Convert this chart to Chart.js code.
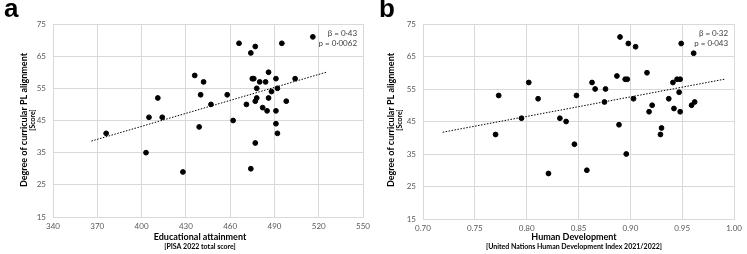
<!DOCTYPE html>
<html>
<head>
<meta charset="utf-8">
<script src="https://cdn.jsdelivr.net/npm/chart.js@4"></script>
<style>
  html,body{margin:0;padding:0;background:#fff;}
  #wrap{position:relative;width:747px;height:254px;}
  #ca{position:absolute;left:0;top:0;}
  #cb{position:absolute;left:375px;top:0;}
</style>
</head>
<body>
<div id="wrap">
  <canvas id="ca" width="375" height="254"></canvas>
  <canvas id="cb" width="372" height="254"></canvas>
</div>
<script>
// panel a: PISA 2022 total score vs curricular PL alignment
const pisaScore=[376,403,405,411,414,428,436,439,440,442,447,458,462,466,471,474,474,475,477,476,
  477,477,478,478,480,482,484,485,486,486,488,491,491,491,492,492,495,498,504,516];
const pisaAlign=[41,35,46,52,46,29,59,43,53,57,50,53,45,69,50,66,30,58,68,58,
  51,38,55,52,57,49,57,48,60,52,54,58,48,44,55,41,69,51,58,71];
const pisaTrendX=[366,525];
const pisaTrendY=[38.6,60.0];
const pisaTicksX=[340,370,400,430,460,490,520,550];

// panel b: HDI 2021/2022 vs curricular PL alignment
const hdiValue=[0.770,0.773,0.795,0.802,0.811,0.821,0.832,0.838,0.846,0.848,0.858,0.863,0.866,0.875,0.876,0.887,0.889,0.890,0.895,0.896,
  0.897,0.898,0.903,0.905,0.916,0.918,0.921,0.929,0.930,0.937,0.941,0.942,0.945,0.947,0.948,0.948,0.949,0.959,0.961,0.962];
const hdiAlign=[41,53,46,57,52,29,46,45,38,53,30,57,55,51,55,59,44,71,58,35,
  58,69,52,68,60,48,50,41,43,52,57,49,58,54,58,48,69,50,66,51];
const hdiTrendX=[0.719,0.9905];
const hdiTrendY=[41.7,58.0];

const alignTicks=[15,25,35,45,55,65,75];

const FONT="Lato, 'Liberation Sans', sans-serif";
const GRID="#d9d9d9";
const TICKC="#595959";

function labelsPlugin(o){
  return {
    id:"labels",
    afterDraw(chart){
      const c=chart.ctx, a=chart.chartArea;
      c.save();
      c.fillStyle="#000";
      c.font="bold 26px 'Liberation Sans', Arial, sans-serif";
      c.textAlign="left"; c.textBaseline="alphabetic";
      c.fillText(o.letter,o.letterX,17);
      // stats
      c.fillStyle="#404040";
      c.font="8px "+FONT;
      c.textAlign="right"; c.textBaseline="middle";
      c.fillText(o.stat1,a.right-6,33);
      c.fillText(o.stat2,a.right-6,43);
      // x title
      c.fillStyle="#000";
      c.textAlign="center";
      c.font="bold 9px "+FONT;
      c.fillText(o.xt1,o.xtX,237);
      c.font="bold 7px "+FONT;
      c.fillText(o.xt2,o.xtX,247);
      // y title
      c.save();
      c.translate(o.ytX,120); c.rotate(-Math.PI/2);
      c.font="bold 9px "+FONT;
      c.fillText("Degree of curricular PL alignment",0,0);
      c.restore();
      c.save();
      c.translate(o.ytX+9,120); c.rotate(-Math.PI/2);
      c.font="bold 7px "+FONT;
      c.fillText("[Score]",0,0);
      c.restore();
      c.restore();
    }
  };
}

function makeChart(id,xs,ys,tx,ty,xOpt,fit,pad,lab){
  const pts=xs.map((v,i)=>({x:v,y:ys[i]}));
  const trend=tx.map((v,i)=>({x:v,y:ty[i]}));
  return new Chart(document.getElementById(id),{
    type:"scatter",
    data:{datasets:[
      {data:pts,backgroundColor:"#000",borderColor:"#000",pointRadius:2.4,pointHoverRadius:2.4,order:1},
      {type:"line",data:trend,borderColor:"#000",borderWidth:1,borderDash:[1.5,1.5],pointRadius:0,fill:false,order:2}
    ]},
    options:{
      responsive:false,animation:false,
      layout:{padding:pad},
      plugins:{legend:{display:false},tooltip:{enabled:false}},
      scales:{
        x:Object.assign({type:"linear",
          grid:{color:GRID,drawTicks:false},border:{color:GRID},
          afterFit:s=>{s.height=fit.h;}
        },xOpt),
        y:{type:"linear",min:15,max:75,
          afterBuildTicks:s=>{s.ticks=alignTicks.map(v=>({value:v}));},
          ticks:{font:{family:FONT,size:8},color:TICKC,padding:7},
          grid:{color:GRID,drawTicks:false},border:{color:GRID},
          afterFit:s=>{s.width=fit.w;}
        }
      }
    },
    plugins:[labelsPlugin(lab)]
  });
}

makeChart("ca",pisaScore,pisaAlign,pisaTrendX,pisaTrendY,
  {min:340,max:550,
   afterBuildTicks:s=>{s.ticks=pisaTicksX.map(v=>({value:v}));},
   ticks:{font:{family:FONT,size:8},color:TICKC,padding:5}},
  {w:53,h:37},{left:0,right:8,top:24,bottom:0},
  {letter:"a",letterX:4,stat1:"\u03b2 = 0\u00b743",stat2:"p = 0\u00b70062",
   xt1:"Educational attainment",xt2:"[PISA 2022 total score]",xtX:200,ytX:24});

makeChart("cb",hdiValue,hdiAlign,hdiTrendX,hdiTrendY,
  {min:0.70,max:1.00,
   afterBuildTicks:s=>{s.ticks=[0.70,0.75,0.80,0.85,0.90,0.95,1.00].map(v=>({value:v}));},
   ticks:{font:{family:FONT,size:8},color:TICKC,padding:5,callback:v=>Number(v).toFixed(2)}},
  {w:48,h:35},{left:0,right:7,top:24,bottom:0},
  {letter:"b",letterX:4,stat1:"\u03b2 = 0\u00b732",stat2:"p = 0\u00b7043",
   xt1:"Human Development",xt2:"[United Nations Human Development Index 2021/2022]",xtX:199,ytX:16});
</script>
</body>
</html>
